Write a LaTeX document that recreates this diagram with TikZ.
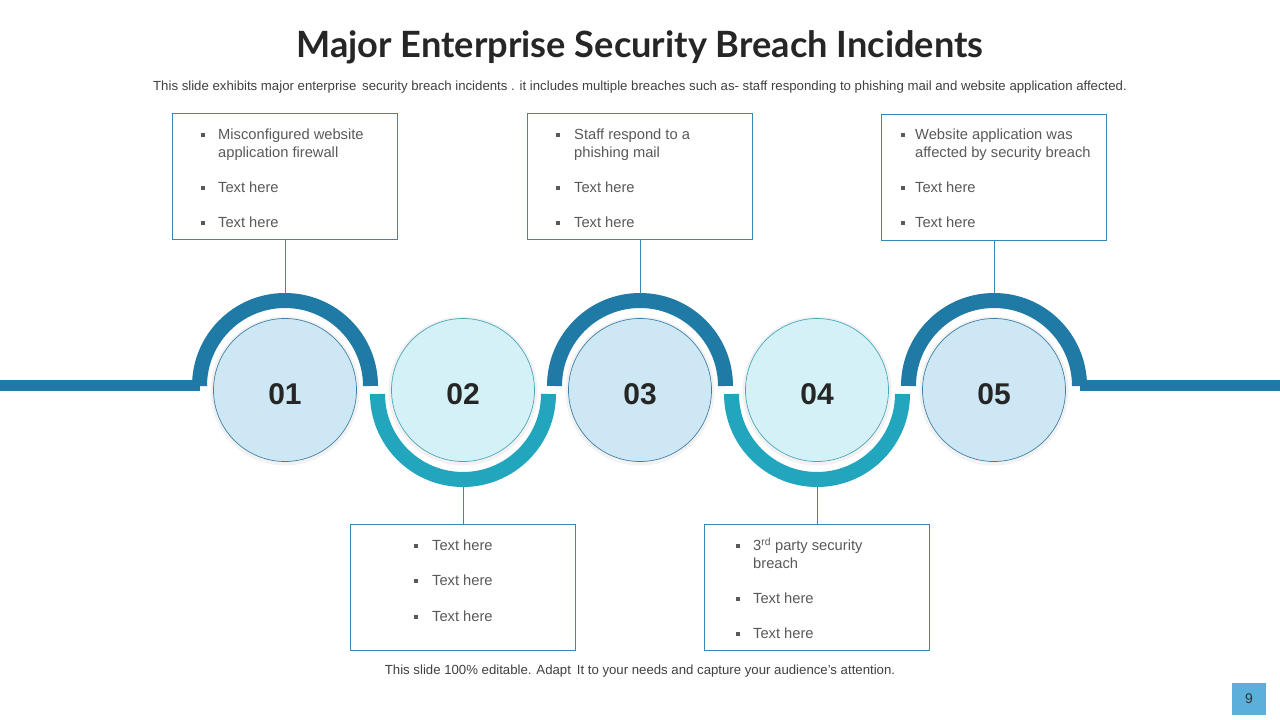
\documentclass[tikz,border=0pt]{standalone}
\usepackage{fontspec}
\setmainfont{Liberation Sans}
\newfontfamily\titlefont{Lato}
\usepackage{xcolor}
\usetikzlibrary{calc,positioning}

\definecolor{topblue}{HTML}{1F7AA5}
\definecolor{bandteal}{HTML}{22A6BE}
\definecolor{oddfill}{HTML}{CDE8F4}
\definecolor{oddline}{HTML}{3F7FA8}
\definecolor{evenfill}{HTML}{D3F1F6}
\definecolor{evenline}{HTML}{4AA6B8}
\definecolor{boxline}{HTML}{3689B0}
\definecolor{bodygray}{HTML}{595959}
\definecolor{pagebox}{HTML}{5AAFDB}

\tikzset{
  infobox/.style={draw=boxline, line width=1, minimum width=225, minimum height=126, inner sep=0},
  numcirc/.style={circle, minimum size=143, inner sep=0, line width=0.7,
    text height=29.5, text depth=0,
    font=\fontsize{30}{30}\selectfont\bfseries, text=black!85},
  oddcirc/.style={numcirc, fill=oddfill, draw=oddline},
  evencirc/.style={numcirc, fill=evenfill, draw=evenline},
  itemtext/.style={anchor=base west, inner sep=0, text=bodygray, font=\fontsize{14.7}{14.7}\selectfont},
  stem/.style={draw=boxline, line width=0.8},
}

% bullet lines of one box: #1 box, #2 bullet offset, #3 text offset, #4 list dy/bullet/text
\newcommand\boxlines[4]{%
  \foreach \dy/\b/\txt in {#4} {
    \ifnum\b=1
      \fill[bodygray] ($(#1.north west)+(#2-2,-\dy-3)$) rectangle ++(4,4);
    \fi
    \node[itemtext] at ($(#1.north west)+(#3,-\dy-6)$) {\txt};
  }%
}

\begin{document}
\begin{tikzpicture}[x=1pt,y=1pt]
\fill[white] (0,0) rectangle (1280,-720);
\useasboundingbox (0,0) rectangle (1280,-720);

% title and subtitle
\node[font=\titlefont\fontsize{36.2}{36.2}\selectfont\bfseries, text=black!85] (title) at (640,-47) {Major Enterprise Security Breach Incidents};
\node[font=\fontsize{13.2}{13.2}\selectfont, text=black!75] (subtitle) at (640,-87) {This slide exhibits major enterprise\, security breach incidents . it includes multiple breaches such as- staff responding to phishing mail and website application affected.};

% base line and bands
\draw[topblue, line width=11] (0,-385.5) -- (200,-385.5);
\draw[topblue, line width=11] (1080,-385.5) -- (1280,-385.5);
\foreach \cx in {285,640,994}
  \draw[topblue, line width=15] (\cx-85.5,-386) arc (180:0:85.5);
\foreach \cx in {463,817}
  \draw[bandteal, line width=15] (\cx-85.5,-394) arc (180:360:85.5);

% circles
\foreach \n/\cx/\kind in {1/285/oddcirc,2/463/evencirc,3/640/oddcirc,4/817/evencirc,5/994/oddcirc} {
  \fill[black!5] (\cx,-391) circle (74.5);
  \node[\kind] (c\n) at (\cx,-390) {0\n};
}

% stem ends on the bands
\coordinate (t1) at (285,-293.5);
\coordinate (t3) at (640,-293.5);
\coordinate (t5) at (994,-293.5);
\coordinate (t2) at (463,-486.5);
\coordinate (t4) at (817,-486.5);

% boxes
\node[infobox] (box1) at (285,-176) {};
\node[infobox] (box3) at (640,-176) {};
\node[infobox] (box5) at (994,-177.5) {};
\node[infobox] (box2) at (463,-587) {};
\node[infobox] (box4) at (817,-587) {};

\draw[stem] (box1.south) -- (t1);
\draw[stem] (box3.south) -- (t3);
\draw[stem] (box5.south) -- (t5);
\draw[stem] (box2.north) -- (t2);
\draw[stem] (box4.north) -- (t4);

\boxlines{box1}{31}{46}{21/1/Misconfigured website, 39/0/application firewall, 74/1/Text here, 109/1/Text here}
\boxlines{box3}{31}{47}{21/1/Staff respond to a, 39/0/phishing mail, 74/1/Text here, 109/1/Text here}
\boxlines{box5}{22}{34}{19.5/1/Website application was, 37.5/0/affected by security breach, 72.5/1/Text here, 107.5/1/Text here}
\boxlines{box2}{66}{82}{21/1/Text here, 56/1/Text here, 92/1/Text here}
\boxlines{box4}{34}{49}{21/1/{3\textsuperscript{rd} party security}, 39/0/breach, 74/1/Text here, 109/1/Text here}

% footer and page number
\node[font=\fontsize{13.2}{13.2}\selectfont, text=black!75] (footer) at (640,-671) {This slide 100\% editable. Adapt\, It to your needs and capture your audience’s attention.};
\node[fill=pagebox, minimum width=34, minimum height=32, inner sep=0, font=\fontsize{14}{14}\selectfont, text=black!80] (pagenum) at (1249,-699) {9};
\end{tikzpicture}
\end{document}
